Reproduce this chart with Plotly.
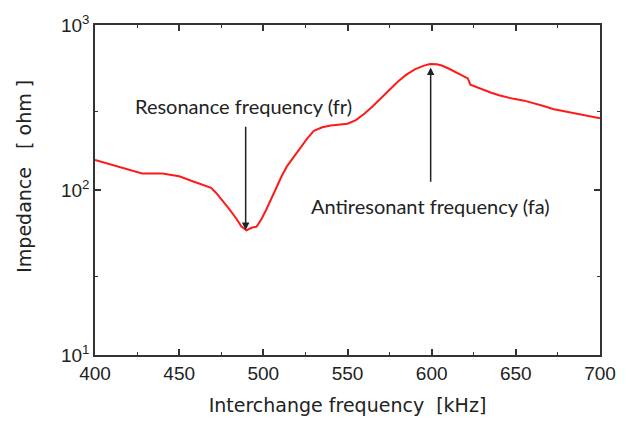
import plotly.graph_objects as go
import math

freq_khz = [400, 410, 420, 428, 440, 450, 458, 466, 469, 472, 476, 480, 484, 487, 490,
            493, 496, 499, 502, 505, 508, 511, 514, 518, 522, 526, 530, 535, 540, 545,
            550, 555, 560, 565, 570, 575, 580, 585, 590, 595, 599, 603, 606, 610, 615,
            620, 621.5, 623, 628, 635, 640, 648, 655, 660, 667, 672, 680, 688, 695, 700]
impedance_ohm = [152, 142, 132, 126, 126, 121, 113, 106, 103, 96, 86, 76, 67, 60, 57,
                 59, 60, 67, 77, 90, 105, 122, 139, 158, 182, 205, 228, 240, 246, 249,
                 252, 265, 290, 322, 360, 405, 455, 500, 538, 565, 580, 578, 568, 545, 515,
                 488, 475, 435, 415, 390, 375, 358, 348, 338, 322, 310, 298, 287, 279, 272]

y_tickvals = [10, 100, 1000]
y_ticktext = ["10<sup>1</sup>", "10<sup>2</sup>", "10<sup>3</sup>"]

fr_label = "Resonance frequency (fr)"
fa_label = "Antiresonant frequency (fa)"
fr_freq, fr_tip, fr_tail, fr_text_y = 489.5, 57.3, 247, 325
fa_freq, fa_tip, fa_tail, fa_text_y = 599.4, 553, 110, 80

fig = go.Figure()
fig.add_trace(go.Scatter(x=freq_khz, y=impedance_ohm, mode="lines",
                         line=dict(color="#ff1a1a", width=2), showlegend=False))

tick_font = dict(family="Liberation Sans, Arial", size=19, color="#222")
title_font = dict(family="DejaVu Sans", size=19, color="#222")
ann_font = dict(family="Lato, Open Sans", size=20, color="#222")

fig.update_xaxes(range=[400, 700], tick0=400, dtick=50, ticks="inside", ticklen=6,
                 tickwidth=1.5, tickcolor="#333", showline=True, linecolor="#333",
                 linewidth=1.5, mirror="ticks", showgrid=False, zeroline=False,
                 tickfont=tick_font,
                 minor=dict(dtick=25, ticks="inside", ticklen=3, tickwidth=1.2,
                            tickcolor="#333", showgrid=False),
                 title=dict(text="Interchange frequency  [kHz]", font=title_font, standoff=16))
fig.update_yaxes(type="log", range=[1, 3], tickvals=y_tickvals, ticktext=y_ticktext,
                 ticks="inside", ticklen=6, tickwidth=1.5, tickcolor="#333",
                 showline=True, linecolor="#333", linewidth=1.5, mirror="ticks",
                 showgrid=False, zeroline=False, tickfont=tick_font,
                 minor=dict(tickvals=[30, 300], ticks="inside", ticklen=3, tickwidth=1.2,
                            tickcolor="#333", showgrid=False))

# y-axis title placed as a rotated annotation (sits slightly above the plot centre)
fig.add_annotation(x=-95 / 505 + 24 / 505, y=1 - (174 - 19) / 337, xref="paper", yref="paper",
                   text="Impedance   [ ohm ]", textangle=-90, showarrow=False,
                   font=title_font, xanchor="center", yanchor="middle")

fig.add_annotation(x=fr_freq, y=math.log10(fr_tip), ax=fr_freq, ay=math.log10(fr_tail),
                   xref="x", yref="y", axref="x", ayref="y", text="", showarrow=True,
                   arrowhead=2, arrowsize=1, arrowwidth=1.5, arrowcolor="#222")
fig.add_annotation(x=fa_freq, y=math.log10(fa_tip), ax=fa_freq, ay=math.log10(fa_tail),
                   xref="x", yref="y", axref="x", ayref="y", text="", showarrow=True,
                   arrowhead=2, arrowsize=1, arrowwidth=1.5, arrowcolor="#222")
fig.add_annotation(x=488.5, y=math.log10(fr_text_y), xref="x", yref="y", text=fr_label,
                   showarrow=False, font=ann_font, xanchor="center", yanchor="middle")
fig.add_annotation(x=599.6, y=math.log10(fa_text_y), xref="x", yref="y", text=fa_label,
                   showarrow=False, font=ann_font, xanchor="center", yanchor="middle")

fig.update_layout(width=630, height=425, margin=dict(l=95, r=30, t=19, b=69),
                  plot_bgcolor="white", paper_bgcolor="white")
fig.write_html("out.html")
